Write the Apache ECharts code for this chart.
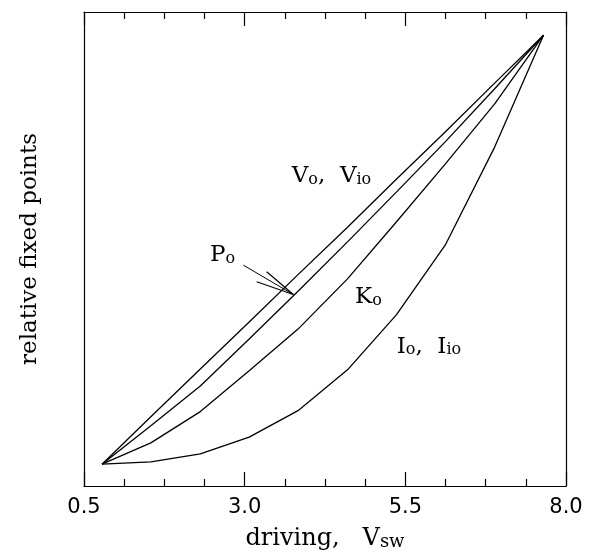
<!DOCTYPE html>
<html>
<head>
<meta charset="utf-8">
<script src="https://cdn.jsdelivr.net/npm/echarts@6/dist/echarts.min.js"></script>
<style>
  html, body { margin: 0; padding: 0; background: #fff; }
  #chart { width: 591px; height: 556px; }
</style>
</head>
<body>
<div id="chart"></div>
<script>
// Driving strength V_sw at which each fixed point was evaluated
const driving = [0.78, 1.54, 2.31, 3.07, 3.83, 4.60, 5.36, 6.12, 6.89, 7.65];

// Relative fixed-point values of each variable
const vFixed = [0.046, 0.146, 0.247, 0.346, 0.446, 0.546, 0.647, 0.747, 0.850, 0.951];
const pFixed = [0.046, 0.127, 0.211, 0.310, 0.411, 0.515, 0.620, 0.726, 0.838, 0.951];
const kFixed = [0.046, 0.091, 0.157, 0.243, 0.331, 0.437, 0.557, 0.679, 0.806, 0.951];
const iFixed = [0.046, 0.051, 0.068, 0.103, 0.159, 0.245, 0.361, 0.508, 0.715, 0.951];

// Axis ticks
const majorTicks = [0.5, 3.0, 5.5, 8.0];
const minorTicks = [1.125, 1.75, 2.375, 3.625, 4.25, 4.875, 6.125, 6.75, 7.375];

const SERIF = '"DejaVu Serif", serif';
const SANS = '"DejaVu Sans", sans-serif';
const INK = '#000';

// Main text plus a lowered, smaller subscript
const richText = {
  m: { fontFamily: SERIF, fontSize: 23, lineHeight: 30, verticalAlign: 'bottom', color: INK },
  s: { fontFamily: SERIF, fontSize: 16, lineHeight: 11, verticalAlign: 'bottom', color: INK }
};
const richName = {
  m: { fontFamily: SERIF, fontSize: 24, lineHeight: 30, verticalAlign: 'bottom', color: INK },
  s: { fontFamily: SERIF, fontSize: 18, lineHeight: 11, verticalAlign: 'bottom', color: INK }
};

function tickAxis(position, values, length, withLine) {
  return {
    type: 'value', position: position, min: 0.5, max: 8.0,
    axisLine: { show: withLine, onZero: false, lineStyle: { color: INK, width: 1.2 } },
    axisTick: { show: true, inside: true, length: length, customValues: values,
                lineStyle: { color: INK, width: 1.2 } },
    axisLabel: { show: false },
    splitLine: { show: false }
  };
}

const bottomMajor = tickAxis('bottom', majorTicks, 14, true);
bottomMajor.axisLabel = {
  show: true, customValues: majorTicks, formatter: v => v.toFixed(1),
  fontFamily: SANS, fontSize: 21, color: INK, margin: 11
};
bottomMajor.name = '{m|driving,   V}{s|sw}';
bottomMajor.nameLocation = 'middle';
bottomMajor.nameGap = 35;
bottomMajor.nameTextStyle = { rich: richName };

function curve(name, values) {
  return {
    name: name, type: 'line', xAxisIndex: 0, yAxisIndex: 0,
    data: driving.map((x, i) => [x, values[i]]),
    symbol: 'none', silent: true, animation: false,
    lineStyle: { color: INK, width: 1.3 }
  };
}

const chart = echarts.init(document.getElementById('chart'), null, { renderer: 'canvas' });
chart.setOption({
  animation: false,
  backgroundColor: '#fff',
  grid: { left: 84, right: 25, top: 12, bottom: 70, containLabel: false },
  xAxis: [
    bottomMajor,
    tickAxis('bottom', minorTicks, 7, false),
    tickAxis('top', majorTicks, 14, true),
    tickAxis('top', minorTicks, 7, false)
  ],
  yAxis: [
    {
      type: 'value', position: 'left', min: 0, max: 1,
      axisLine: { show: true, onZero: false, lineStyle: { color: INK, width: 1.2 } },
      axisTick: { show: false }, axisLabel: { show: false }, splitLine: { show: false },
      name: 'relative fixed points', nameLocation: 'middle', nameGap: 42,
      nameTextStyle: { fontFamily: SERIF, fontSize: 23, color: INK }
    },
    {
      type: 'value', position: 'right', min: 0, max: 1,
      axisLine: { show: true, onZero: false, lineStyle: { color: INK, width: 1.2 } },
      axisTick: { show: false }, axisLabel: { show: false }, splitLine: { show: false }
    }
  ],
  series: [
    curve('V', vFixed),
    curve('P', pFixed),
    curve('K', kFixed),
    curve('I', iFixed)
  ]
});

// Curve labels (data position of the upper-left corner of each label)
const curveNotes = [
  { at: [3.732, 0.692], text: '{m|V}{s|o}{m|,  V}{s|io}' },
  { at: [2.461, 0.526], text: '{m|P}{s|o}' },
  { at: [4.717, 0.438], text: '{m|K}{s|o}' },
  { at: [5.365, 0.333], text: '{m|I}{s|o}{m|,  I}{s|io}' }
];

// Pointer from the P label to its curve: tail, tip, and two barb ends
const pointerTail = [2.979, 0.466];
const pointerTip = [3.757, 0.404];
const pointerBarbs = [[3.343, 0.452], [3.187, 0.431]];

const px = p => chart.convertToPixel({ xAxisIndex: 0, yAxisIndex: 0 }, p);

const graphics = curveNotes.map(n => {
  const p = px(n.at);
  return {
    type: 'text', silent: true,
    style: { x: p[0], y: p[1], text: n.text, rich: richText, align: 'left', verticalAlign: 'top' }
  };
});
const tip = px(pointerTip);
graphics.push({
  type: 'polyline', silent: true,
  shape: { points: [px(pointerTail), tip] },
  style: { stroke: INK, lineWidth: 1, fill: null }
});
pointerBarbs.forEach(b => {
  graphics.push({
    type: 'polyline', silent: true,
    shape: { points: [px(b), tip] },
    style: { stroke: INK, lineWidth: 1.2, fill: null }
  });
});
chart.setOption({ graphic: graphics });
</script>
</body>
</html>
